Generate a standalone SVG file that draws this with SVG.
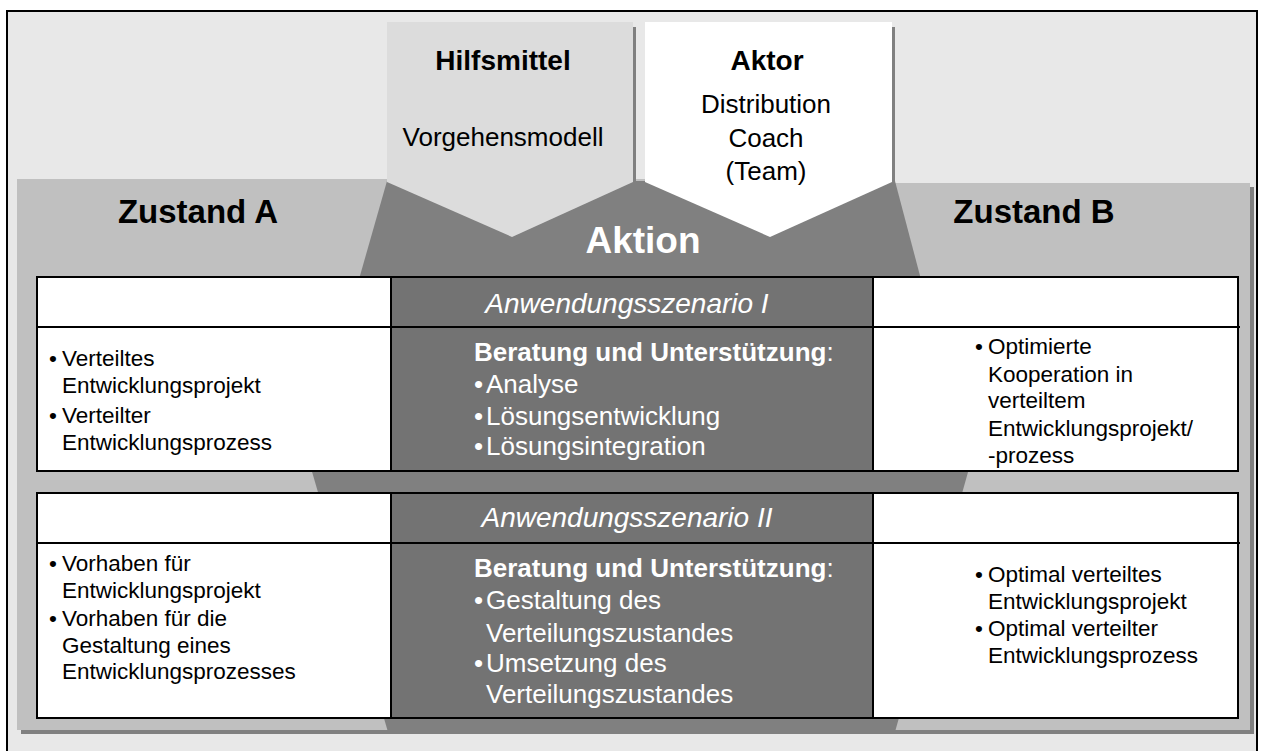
<svg xmlns="http://www.w3.org/2000/svg" width="1263" height="751" viewBox="0 0 1263 751">
  <style>
    text { font-family: "Liberation Sans", Arial, sans-serif; }
    .frame { fill: #e8e8e8; stroke: #000; stroke-width: 2; }
    .band { fill: #c0c0c0; }
    .shadow { fill: #808080; }
    .aktion { fill: #808080; }
    .cell { fill: #fff; stroke: #000; stroke-width: 2; }
    .mid { fill: #737373; stroke: #000; stroke-width: 2; }
    .rule { stroke: #000; stroke-width: 2; fill: none; }
    .title { font-weight: bold; fill: #000; text-anchor: middle; }
    .state { font-size: 33px; font-weight: bold; fill: #000; text-anchor: middle; }
    .body { font-size: 22.5px; fill: #000; }
    .midtxt { font-size: 26px; fill: #fff; }
    .scen { font-size: 28px; font-style: italic; fill: #fff; text-anchor: middle; }
  </style>

  <!-- outer frame -->
  <rect class="frame" x="7" y="11" width="1250" height="750"/>

  <!-- state band with drop shadow -->
  <g id="band">
    <rect class="shadow" x="21" y="187" width="1233" height="547"/>
    <rect class="band" x="17" y="179" width="630" height="551"/>
    <rect class="band" x="640" y="183" width="610" height="547"/>
  </g>

  <!-- central action shape -->
  <g id="aktion">
    <polygon class="aktion" points="387,181 895,181 970,465 895,732 388,732 308,458"/>
    <text x="643" y="253" font-size="37" font-weight="bold" fill="#fff" text-anchor="middle">Aktion</text>
  </g>

  <!-- tool chevron -->
  <g id="hilfsmittel">
    <rect class="shadow" x="633" y="27" width="3" height="156"/>
    <polygon fill="#dcdcdc" points="387,22 633,22 633,182 512,237 387,182"/>
    <text class="title" x="503" y="70" font-size="28">Hilfsmittel</text>
    <text x="503" y="146" font-size="26" fill="#000" text-anchor="middle">Vorgehensmodell</text>
  </g>

  <!-- actor chevron -->
  <g id="aktor">
    <rect class="shadow" x="892" y="27" width="3" height="156"/>
    <polygon fill="#fff" points="645,22 892,22 892,182 770,237 645,182"/>
    <text class="title" x="767" y="70" font-size="28">Aktor</text>
    <text x="766" y="113" font-size="26" fill="#000" text-anchor="middle">Distribution</text>
    <text x="766" y="147" font-size="26" fill="#000" text-anchor="middle">Coach</text>
    <text x="766" y="180" font-size="26" fill="#000" text-anchor="middle">(Team)</text>
  </g>

  <!-- state headings -->
  <g id="zustand-a">
    <text class="state" x="198" y="223">Zustand A</text>
  </g>
  <g id="zustand-b">
    <text class="state" x="1034" y="223">Zustand B</text>
  </g>

  <!-- scenario I table -->
  <g id="szenario-1">
    <rect class="cell" x="37" y="277" width="354" height="194"/>
    <rect class="cell" x="873" y="277" width="365" height="194"/>
    <rect class="mid" x="391" y="277" width="482" height="194"/>
    <line class="rule" x1="37" y1="327" x2="1240" y2="327"/>

    <text class="scen" x="627" y="313">Anwendungsszenario I</text>

    <text class="body">
      <tspan x="49" y="366">•</tspan><tspan x="62" y="366">Verteiltes</tspan>
      <tspan x="62" y="393">Entwicklungsprojekt</tspan>
      <tspan x="49" y="423">•</tspan><tspan x="62" y="423">Verteilter</tspan>
      <tspan x="62" y="450">Entwicklungsprozess</tspan>
    </text>

    <text class="midtxt">
      <tspan x="474" y="361" font-weight="bold">Beratung und Unterstützung</tspan><tspan>:</tspan>
      <tspan x="474" y="393">•</tspan><tspan x="486" y="393">Analyse</tspan>
      <tspan x="474" y="425">•</tspan><tspan x="486" y="425">Lösungsentwicklung</tspan>
      <tspan x="474" y="455">•</tspan><tspan x="486" y="455">Lösungsintegration</tspan>
    </text>

    <text class="body">
      <tspan x="975" y="354">•</tspan><tspan x="988" y="354">Optimierte</tspan>
      <tspan x="988" y="382">Kooperation in</tspan>
      <tspan x="988" y="408">verteiltem</tspan>
      <tspan x="988" y="436">Entwicklungsprojekt/</tspan>
      <tspan x="988" y="463">-prozess</tspan>
    </text>
  </g>

  <!-- scenario II table -->
  <g id="szenario-2">
    <rect class="cell" x="37" y="493" width="354" height="225"/>
    <rect class="cell" x="873" y="493" width="365" height="225"/>
    <rect class="mid" x="391" y="493" width="482" height="225"/>
    <line class="rule" x1="37" y1="543" x2="1240" y2="543"/>

    <text class="scen" x="627" y="527">Anwendungsszenario II</text>

    <text class="body">
      <tspan x="49" y="571">•</tspan><tspan x="62" y="571">Vorhaben für</tspan>
      <tspan x="62" y="598">Entwicklungsprojekt</tspan>
      <tspan x="49" y="626">•</tspan><tspan x="62" y="626">Vorhaben für die</tspan>
      <tspan x="62" y="653">Gestaltung eines</tspan>
      <tspan x="62" y="679">Entwicklungsprozesses</tspan>
    </text>

    <text class="midtxt">
      <tspan x="474" y="577" font-weight="bold">Beratung und Unterstützung</tspan><tspan>:</tspan>
      <tspan x="474" y="609">•</tspan><tspan x="486" y="609">Gestaltung des</tspan>
      <tspan x="486" y="642">Verteilungszustandes</tspan>
      <tspan x="474" y="672">•</tspan><tspan x="486" y="672">Umsetzung des</tspan>
      <tspan x="486" y="703">Verteilungszustandes</tspan>
    </text>

    <text class="body">
      <tspan x="975" y="582">•</tspan><tspan x="988" y="582">Optimal verteiltes</tspan>
      <tspan x="988" y="609">Entwicklungsprojekt</tspan>
      <tspan x="975" y="636">•</tspan><tspan x="988" y="636">Optimal verteilter</tspan>
      <tspan x="988" y="663">Entwicklungsprozess</tspan>
    </text>
  </g>
</svg>
